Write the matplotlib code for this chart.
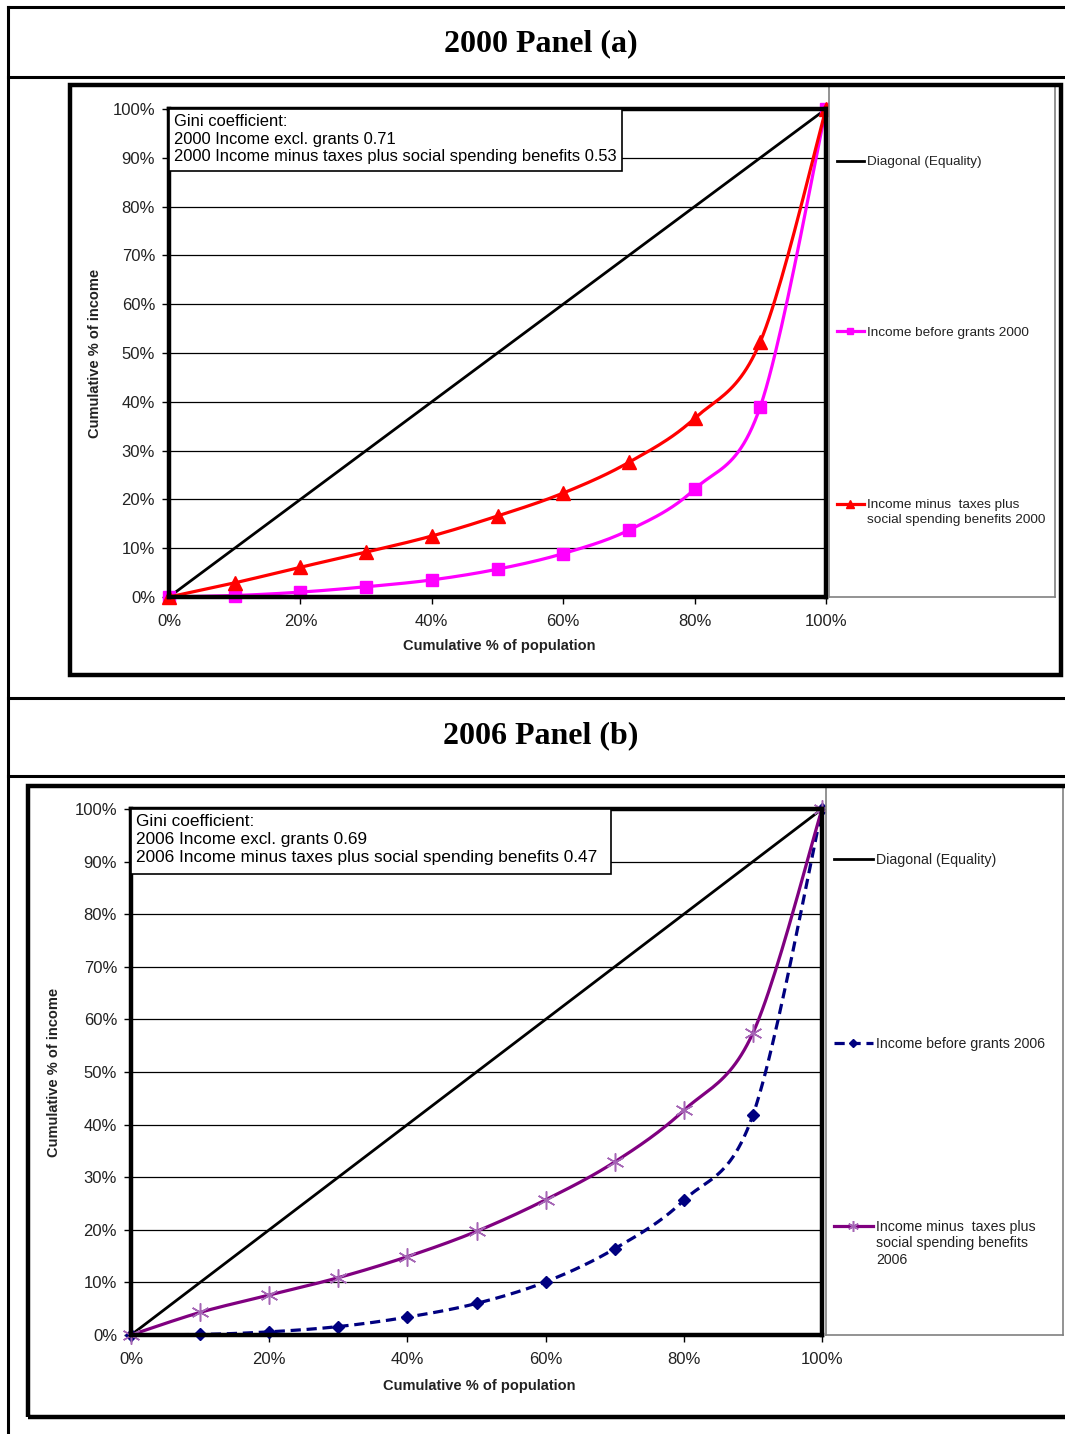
import matplotlib.pyplot as plt
import numpy as np
from matplotlib.patches import Rectangle
from matplotlib.lines import Line2D
from matplotlib.legend import Legend
from matplotlib.ticker import FuncFormatter
from matplotlib.transforms import offset_copy

plt.rcParams['font.family'] = ['Liberation Sans', 'DejaVu Sans']

W, H = 1065, 1434

# cumulative % of population (deciles)
population = [0, 10, 20, 30, 40, 50, 60, 70, 80, 90, 100]
equality = [0, 100]

# cumulative % of income
before_grants_2000 = [0, 0.3, 1.0, 2.1, 3.5, 5.7, 8.9, 13.7, 22.1, 39.0, 100]
after_taxes_2000 = [0, 2.9, 6.1, 9.2, 12.5, 16.6, 21.3, 27.6, 36.6, 52.3, 100]
before_grants_2006 = [0, 0.1, 0.6, 1.6, 3.4, 6.0, 10.1, 16.4, 25.6, 41.8, 100]
after_taxes_2006 = [0, 4.3, 7.6, 10.9, 14.9, 19.7, 25.7, 32.9, 42.7, 57.4, 100]

gini_2000 = ["Gini coefficient:",
             "2000 Income excl. grants 0.71",
             "2000 Income minus taxes plus social spending benefits 0.53"]
gini_2006 = ["Gini coefficient:",
             "2006 Income excl. grants 0.69",
             "2006 Income minus taxes plus social spending benefits 0.47"]

ticks = [0, 20, 40, 60, 80, 100]
yticks = [0, 10, 20, 30, 40, 50, 60, 70, 80, 90, 100]

TEXT = '#222222'


def box(x0, y0, x1, y1):
    """pixel box (top-left origin) -> figure fraction rect"""
    return [x0 / W, 1 - y1 / H, (x1 - x0) / W, (y1 - y0) / H]


def smooth(xs, ys, n=24):
    """Excel-like smoothed line (Catmull-Rom through the points)"""
    xs = np.asarray(xs, float)
    ys = np.asarray(ys, float)
    px = np.concatenate([[xs[0]], xs, [xs[-1]]])
    py = np.concatenate([[ys[0]], ys, [ys[-1]]])
    out_x, out_y = [], []
    t = np.linspace(0, 1, n, endpoint=False)
    for i in range(1, len(px) - 2):
        x0, x1, x2, x3 = px[i - 1:i + 3]
        y0, y1, y2, y3 = py[i - 1:i + 3]
        # bezier control points
        cx1, cy1 = x1 + (x2 - x0) / 6, y1 + (y2 - y0) / 6
        cx2, cy2 = x2 - (x3 - x1) / 6, y2 - (y3 - y1) / 6
        out_x.extend((1 - t) ** 3 * x1 + 3 * (1 - t) ** 2 * t * cx1 + 3 * (1 - t) * t ** 2 * cx2 + t ** 3 * x2)
        out_y.extend((1 - t) ** 3 * y1 + 3 * (1 - t) ** 2 * t * cy1 + 3 * (1 - t) * t ** 2 * cy2 + t ** 3 * y2)
    out_x.append(xs[-1])
    out_y.append(ys[-1])
    return np.array(out_x), np.array(out_y), n


def hline(y, x0=8, x1=W, lw=2.2):
    fig.add_artist(Line2D([x0 / W, x1 / W], [1 - y / H, 1 - y / H], color='black', lw=lw))


def setup_axes(rect, gini, gini_w, gini_h, gini_fs, tick_fs):
    ax = fig.add_axes(rect)
    ax.set_xlim(0, 100)
    ax.set_ylim(0, 100)
    ax.set_xticks(ticks)
    ax.set_yticks(yticks)
    pct = FuncFormatter(lambda v, p: f"{v:.0f}%")
    ax.xaxis.set_major_formatter(pct)
    ax.yaxis.set_major_formatter(pct)
    ax.tick_params(direction='out', length=5, width=1, labelsize=tick_fs, colors='black',
                   labelcolor=TEXT)
    ax.tick_params(axis='x', pad=7)
    ax.tick_params(axis='y', pad=5)
    ax.grid(axis='y', color='black', lw=0.9)
    ax.set_axisbelow(True)
    for s in ax.spines.values():
        s.set_linewidth(3.2)
        s.set_zorder(5)
    ax.set_xlabel("Cumulative % of population", fontsize=10.5, fontweight='bold', color=TEXT)
    ax.set_ylabel("Cumulative % of income", fontsize=10.5, fontweight='bold', color=TEXT)
    # gini box
    ax.add_patch(Rectangle((0, 1 - gini_h), gini_w, gini_h, transform=ax.transAxes,
                           facecolor='white', edgecolor='black', lw=1.2, zorder=6, clip_on=False))
    ax.text(0.007, 1 - 0.01, "\n".join(gini), transform=ax.transAxes, va='top', ha='left',
            fontsize=gini_fs, color='black', linespacing=1.22, zorder=7)
    return ax


def add_legend(lax, handle, label, y, fs, hl):
    lines = label.split("\n")
    leg = Legend(lax, [handle], [lines[0]], loc='center left', bbox_to_anchor=(0.035, y),
                 frameon=False, fontsize=fs, handlelength=hl, handletextpad=0.25,
                 borderpad=0, borderaxespad=0, markerscale=0.6, labelcolor=TEXT)
    lax.add_artist(leg)
    if len(lines) > 1:
        # continuation lines go under the first one, handle stays on line one
        fig.canvas.draw()
        bb = leg.get_texts()[0].get_window_extent().transformed(lax.transAxes.inverted())
        tr = offset_copy(lax.transAxes, fig=fig, y=-2.5, units='dots')
        lax.text(bb.x0, bb.y0, "\n".join(lines[1:]), transform=tr, va='top',
                 ha='left', fontsize=fs, color=TEXT, linespacing=1.2)


fig = plt.figure(figsize=(W / 100, H / 100), dpi=100)

# table around the two panels
for y in [7, 77, 698, 776]:
    hline(y)
fig.add_artist(Line2D([8 / W, 8 / W], [0, 1 - 7 / H], color='black', lw=2.2))
fig.text(541 / W, 1 - 44 / H, "2000 Panel (a)", ha='center', va='center',
         fontsize=23, fontweight='bold', family='Liberation Serif')
fig.text(541 / W, 1 - 736 / H, "2006 Panel (b)", ha='center', va='center',
         fontsize=23, fontweight='bold', family='Liberation Serif')

# chart frames
fig.add_artist(Rectangle((70 / W, 1 - 675 / H), (1061 - 70) / W, (675 - 85) / H,
                         transform=fig.transFigure, fill=False, edgecolor='black', lw=3.2))
fig.add_artist(Rectangle((28 / W, 1 - 1417 / H), (1075 - 28) / W, (1417 - 786) / H,
                         transform=fig.transFigure, fill=False, edgecolor='black', lw=3.2))

# ---- panel (a) ----
ax1 = setup_axes(box(169, 109, 826, 597), gini_2000, 0.69, 0.127, 11.9, 12)
ax1.yaxis.set_label_coords(-0.102, 0.5)
ax1.xaxis.set_label_coords(0.502, -0.086)

d1, = ax1.plot(population[::10], equality, color='black', lw=2, zorder=3)
sx, sy, n = smooth(population, before_grants_2000)
m1, = ax1.plot(sx, sy, color='#FF00FF', lw=2.3, marker='s', markersize=8, markevery=n,
               zorder=3, clip_on=False)
sx, sy, n = smooth(population, after_taxes_2000)
r1, = ax1.plot(sx, sy, color='#FF0000', lw=2.3, marker='^', markersize=10, markevery=n,
               zorder=4, clip_on=False)

lax1 = fig.add_axes(box(829, 86, 1055, 597))
lax1.set_xticks([])
lax1.set_yticks([])
for s in lax1.spines.values():
    s.set_edgecolor('#808080')
    s.set_linewidth(1.2)
add_legend(lax1, d1, "Diagonal (Equality)", 0.851, 9.7, 2.0)
add_legend(lax1, m1, "Income before grants 2000", 0.517, 9.7, 2.0)
add_legend(lax1, r1, "Income minus  taxes plus\nsocial spending benefits 2000", 0.180, 9.7, 2.0)

# ---- panel (b) ----
ax2 = setup_axes(box(131, 809, 822, 1335), gini_2006, 0.695, 0.124, 12.4, 12)
ax2.yaxis.set_label_coords(-0.101, 0.5)
ax2.xaxis.set_label_coords(0.504, -0.084)

d2, = ax2.plot(population[::10], equality, color='black', lw=2, zorder=3)
sx, sy, n = smooth(population, before_grants_2006)
b2, = ax2.plot(sx, sy, color='#000080', lw=2.3, ls=(0, (3.2, 1.8)), marker='D', markersize=6.5,
               markevery=n, zorder=3, clip_on=False)
sx, sy, n = smooth(population, after_taxes_2006)
p2, = ax2.plot(sx, sy, color='#800080', lw=2.3, marker=(6, 2, 0), markersize=13,
               markeredgecolor='#A565B5', markeredgewidth=1.1, markevery=n, zorder=4,
               clip_on=False)

lax2 = fig.add_axes(box(826, 786, 1063, 1335))
lax2.set_xticks([])
lax2.set_yticks([])
for s in lax2.spines.values():
    s.set_edgecolor('#808080')
    s.set_linewidth(1.2)
add_legend(lax2, d2, "Diagonal (Equality)", 0.865, 10.2, 2.7)
add_legend(lax2, b2, "Income before grants 2006", 0.530, 10.2, 2.7)
add_legend(lax2, p2, "Income minus  taxes plus\nsocial spending benefits\n2006", 0.197, 10.2, 2.7)

fig.savefig("out.png", dpi=100)
